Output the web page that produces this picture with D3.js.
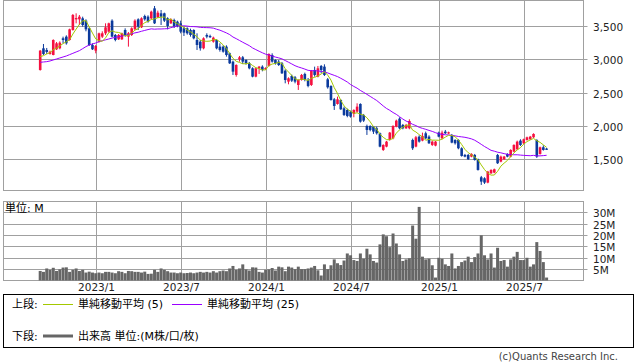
<!DOCTYPE html>
<html><head><meta charset="utf-8">
<script src="https://cdn.jsdelivr.net/npm/d3@7/dist/d3.min.js"></script>
<style>
html,body{margin:0;padding:0;background:#fff;}
svg{display:block;font-family:"DejaVu Sans","Noto Sans CJK JP",sans-serif;}
</style></head><body>
<svg id="c" width="638" height="362"></svg>
<script>
// ---- data (weekly candles) ----
const opens = [2840,3165,3140,3080,3065,3150,3165,3315,3340,3290,3440,3600,3600,3615,3580,3465,3215,3130,3265,3340,
3390,3415,3580,3365,3300,3300,3440,3340,3365,3450,3600,3480,3650,3640,3615,3765,3630,3690,3690,3615,
3540,3590,3565,3540,3465,3465,3440,3440,3290,3265,3165,3365,3350,3265,3290,3190,3190,3190,3090,2965,
2765,3000,3030,2990,2940,2865,2740,2865,2890,2855,2900,3065,2990,2965,2940,2830,2665,2750,2730,2615,
2690,2780,2690,2615,2840,2740,2900,2890,2700,2600,2400,2330,2390,2265,2240,2215,2180,2215,2330,2165,
2000,2000,1990,1965,1890,1640,1690,1790,1815,1990,2110,2015,1965,1965,1790,1690,1840,1780,1890,1840,
1715,1705,1900,1815,1915,1890,1865,1790,1790,1665,1565,1565,1540,1565,1500,1230,1215,1150,1290,1300,
1565,1465,1500,1580,1540,1615,1650,1780,1740,1790,1800,1830,1790,1580,1680,1660];
const highs = [3140,3230,3170,3130,3300,3260,3270,3340,3360,3460,3680,3690,3665,3640,3600,3480,3240,3215,3400,3420,
3540,3550,3600,3380,3380,3400,3465,3410,3480,3600,3615,3630,3670,3660,3730,3800,3730,3740,3700,3630,
3615,3610,3580,3580,3490,3480,3460,3450,3390,3290,3330,3390,3370,3340,3300,3240,3210,3210,3100,2980,
2925,3050,3050,3000,2960,2880,2875,2900,2910,2880,3090,3090,3000,2990,2960,2850,2730,2770,2750,2700,
2780,2800,2720,2840,2890,2900,2915,2925,2720,2610,2420,2440,2400,2290,2260,2230,2250,2340,2340,2180,
2020,2010,2000,1990,1900,1725,1775,1910,2010,2095,2130,2030,2030,2100,1810,1850,1860,1900,1915,1860,
1780,1775,1915,1930,1940,1915,1880,1800,1800,1680,1580,1580,1590,1580,1510,1250,1230,1325,1350,1360,
1580,1555,1550,1590,1650,1725,1780,1800,1810,1840,1850,1890,1800,1690,1710,1670];
const lows = [2830,3065,3080,3070,3060,3140,3150,3240,3220,3280,3430,3540,3515,3490,3420,3200,3140,3090,3250,3320,
3365,3400,3330,3270,3290,3290,3340,3190,3350,3440,3440,3470,3580,3550,3600,3530,3620,3515,3560,3450,
3530,3470,3480,3390,3350,3370,3340,3300,3140,3130,3150,3315,3320,3250,3150,3115,3100,3040,2930,2765,
2740,2965,2930,2920,2850,2730,2730,2780,2820,2840,2890,2950,2920,2900,2780,2640,2625,2660,2640,2540,
2680,2670,2580,2600,2740,2730,2790,2750,2560,2380,2240,2320,2240,2150,2130,2125,2130,2200,2050,2060,
1865,1920,1880,1870,1680,1625,1680,1780,1800,1980,1950,1950,1955,1950,1640,1680,1750,1770,1800,1730,
1700,1695,1830,1800,1880,1880,1740,1720,1650,1540,1530,1490,1530,1480,1330,1115,1130,1140,1280,1290,
1430,1455,1490,1530,1530,1605,1640,1700,1730,1780,1790,1820,1520,1570,1630,1640];
const closes = [3130,3080,3110,3115,3290,3240,3250,3290,3240,3450,3665,3620,3640,3515,3450,3215,3150,3200,3390,3390,
3480,3540,3340,3290,3365,3390,3365,3390,3465,3580,3490,3615,3600,3565,3715,3540,3700,3640,3580,3500,
3600,3490,3500,3415,3400,3390,3365,3315,3215,3165,3315,3340,3335,3325,3165,3140,3115,3065,2940,2815,
2915,3030,2965,2940,2865,2740,2865,2890,2840,2870,3080,2965,2940,2915,2790,2690,2715,2680,2665,2690,
2765,2690,2600,2830,2765,2865,2840,2765,2580,2390,2300,2400,2250,2165,2150,2140,2240,2290,2065,2080,
1940,1940,1915,1890,1690,1715,1765,1900,2000,2080,1965,1965,2015,2075,1665,1830,1765,1850,1815,1740,
1765,1765,1840,1900,1890,1905,1750,1740,1665,1550,1540,1500,1580,1490,1340,1165,1150,1315,1340,1350,
1440,1540,1540,1540,1640,1715,1765,1715,1800,1830,1840,1880,1540,1680,1640,1655];
const volumes = [4.2,3.8,5.3,4.7,5.6,4.2,4.9,5.7,5.8,3.8,4.7,5.3,4.2,4.7,3.5,3.9,3.5,3.2,3.5,3.2,
3.8,3.8,3.5,3.2,4.1,3.8,3.2,4.2,4.1,3.8,3.8,3.5,3.9,2.9,3.0,4.7,3.8,5.3,4.7,4.1,
3.5,3.5,3.2,3.5,3.2,3.3,3.5,3.2,3.5,3.8,3.5,3.8,3.5,4.1,3.5,4.1,4.4,4.1,5.3,6.4,
4.7,5.3,7.1,4.9,4.4,5.8,5.7,3.8,3.5,4.7,4.9,5.5,4.4,6.1,5.8,4.1,6.1,
5.7,5.0,6.1,5.0,5.0,5.3,5.7,6.4,4.5,2.2,7.1,5.0,6.7,9.3,7.6,6.8,8.8,11.9,11.1,9.0,
8.6,11.9,9.6,14.0,11.5,8.6,7.9,15.9,20.3,19.5,14.7,20.7,16.3,11.5,8.6,9.3,9.8,24.2,18.4,32.4,
10.5,9.3,9.6,6.7,1.3,10.0,9.6,7.1,6.4,11.9,5.3,6.4,8.1,8.8,10.5,8.1,10.3,11.9,19.9,11.1,
9.3,11.9,5.7,14.4,8.6,9.0,6.1,9.3,10.5,12.6,9.0,9.0,10.0,6.1,7.1,16.9,13.0,8.1,1.3];
// moving-average values before enough history is visible
const ma5Lead = [3040,3055,3080,3100];
const ma25Lead = [2955,2960,2965,2975,2990,3005,3020,3035,3050,3070,3090,3110,3130,3160,3190,3215,3230,3245,3265,3280,3292,3305,3318,3330];
const priceTicks = [1500,2000,2500,3000,3500];
const volumeTicks = [5,10,15,20,25,30];
const monthTickLabels = ["2023/1","2023/7","2024/1","2024/7","2025/1","2025/7"];
const firstWeek = new Date(2022,8,5);

// ---- derived ----
const N = opens.length;
const weeks = d3.timeMonday.range(firstWeek, d3.timeDay.offset(firstWeek, 7*N));
const candles = weeks.map((w,i)=>({w, i, o:opens[i], h:highs[i], l:lows[i], c:closes[i], v:volumes[i]}));
const ma5 = closes.map((c,i)=> i<4 ? ma5Lead[i] : d3.mean(closes.slice(i-4,i+1)));
const ma25 = closes.map((c,i)=> i<24 ? ma25Lead[i] : d3.mean(closes.slice(i-24,i+1)));

const svg = d3.select("#c");
const GRID = "#a0a0a0", RED = "#f5103f", BLUE = "#0b3a9c";
const L = 3.5, R = 583.5;
const x = d3.scalePoint().domain(d3.range(N)).range([40.2, 546.6]);
const y = d3.scaleLinear().domain([1030, 3890]).range([190.6, 0]);
const yv = d3.scaleLinear().domain([0, 35]).range([280.5, 201]);

const monthPos = monthTickLabels.map(s=>{
  const [yy,mm] = s.split("/").map(Number);
  const idx = weeks.findIndex(w=>w.getFullYear()===yy && w.getMonth()===mm-1);
  return {label:s, x:Math.round(x(idx))+0.5};
});

// panels
const g = svg.append("g");
function panel(top, bottom, sc, ticks, fmt){
  ticks.forEach(t=>{
    const yy = Math.round(sc(t))+0.5;
    g.append("line").attr("x1",L).attr("x2",R+4).attr("y1",yy).attr("y2",yy).attr("stroke",GRID);
    g.append("text").attr("x",593).attr("y",yy+4).attr("font-size",10.5).attr("fill","#222").text(fmt(t));
  });
  monthPos.forEach(m=>{
    g.append("line").attr("x1",m.x).attr("x2",m.x).attr("y1",top).attr("y2",bottom).attr("stroke",GRID);
  });
  g.append("rect").attr("x",L).attr("y",top).attr("width",R-L).attr("height",bottom-top)
    .attr("fill","none").attr("stroke",GRID);
}
panel(0.5, 190.5, y, priceTicks, d3.format(","));
panel(201.5, 280.5, yv, volumeTicks, d=>d+"M");

// date labels
monthPos.forEach(m=>{
  g.append("text").attr("x",m.x).attr("y",291).attr("text-anchor","middle")
    .attr("font-size",10.5).attr("fill","#222").text(m.label);
});
g.append("text").attr("x",5).attr("y",212).attr("font-size",11).attr("fill","#000").text("単位: M");

// volume bars
svg.append("g").selectAll("rect").data(candles).join("rect")
  .attr("x",d=>x(d.i)-1.5).attr("width",3)
  .attr("y",d=>yv(d.v)).attr("height",d=>yv(0)-yv(d.v))
  .attr("fill","#666");

// candles
const cg = svg.append("g");
cg.selectAll("line").data(candles).join("line")
  .attr("x1",d=>x(d.i)).attr("x2",d=>x(d.i))
  .attr("y1",d=>y(d.h)).attr("y2",d=>y(d.l))
  .attr("stroke",d=>d.c>=d.o?RED:BLUE).attr("stroke-width",1);
cg.selectAll("rect").data(candles).join("rect")
  .attr("x",d=>x(d.i)-1.3).attr("width",2.6)
  .attr("y",d=>y(Math.max(d.o,d.c)))
  .attr("height",d=>Math.max(1.2, Math.abs(y(d.o)-y(d.c))))
  .attr("fill",d=>d.c>=d.o?RED:BLUE);

// moving averages
const line = d3.line().x((d,i)=>x(i)).y(d=>y(d));
svg.append("path").attr("d",line(ma25)).attr("fill","none").attr("stroke","#9a00ff").attr("stroke-width",1);
svg.append("path").attr("d",line(ma5)).attr("fill","none").attr("stroke","#a3c800").attr("stroke-width",1);

// legend
const lg = svg.append("g").attr("font-size",11).attr("fill","#000");
lg.append("rect").attr("x",3.5).attr("y",294.5).attr("width",630).attr("height",53)
  .attr("fill","none").attr("stroke","#000");
lg.append("text").attr("x",12).attr("y",308).text("上段:");
lg.append("line").attr("x1",43).attr("x2",73).attr("y1",304.5).attr("y2",304.5).attr("stroke","#a3c800");
lg.append("text").attr("x",78).attr("y",308).text("単純移動平均 (5)");
lg.append("line").attr("x1",172).attr("x2",202).attr("y1",304.5).attr("y2",304.5).attr("stroke","#9a00ff");
lg.append("text").attr("x",207).attr("y",308).text("単純移動平均 (25)");
lg.append("text").attr("x",12).attr("y",340).text("下段:");
lg.append("line").attr("x1",43).attr("x2",73).attr("y1",336).attr("y2",336).attr("stroke","#666").attr("stroke-width",3);
lg.append("text").attr("x",78).attr("y",340).text("出来高 単位:(M株/口/枚)");
svg.append("text").attr("x",618).attr("y",360).attr("text-anchor","end").attr("font-size",10)
  .attr("fill","#444").text("(c)Quants Research Inc.");
</script>
</body></html>
